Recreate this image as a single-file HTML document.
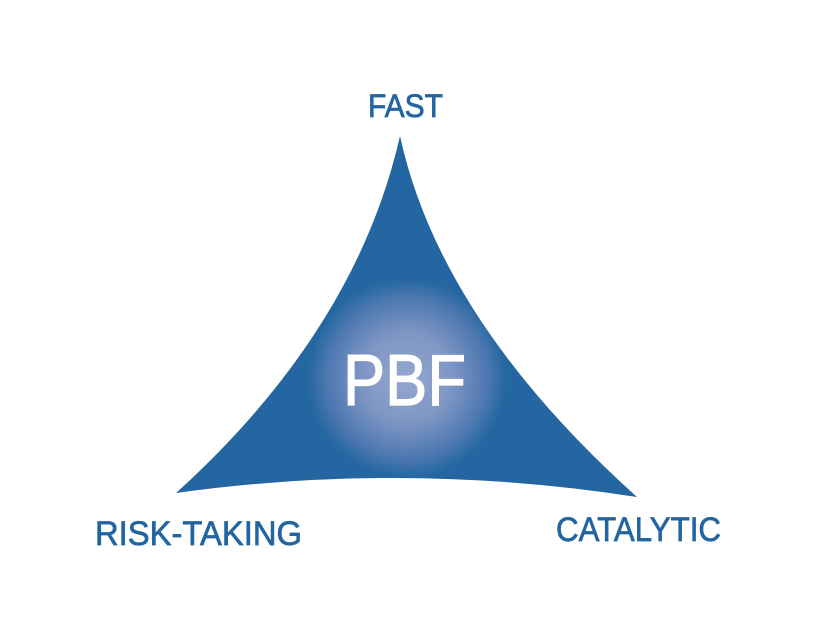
<!DOCTYPE html>
<html><head><meta charset="utf-8"><style>
html,body{margin:0;padding:0;background:#fff;width:826px;height:626px;overflow:hidden}
</style></head><body>
<svg width="826" height="626" viewBox="0 0 826 626" xmlns="http://www.w3.org/2000/svg">
<defs>
<radialGradient id="g" cx="407" cy="378" r="100" gradientUnits="userSpaceOnUse">
<stop offset="0" stop-color="#93a8d0"/>
<stop offset="0.45" stop-color="#7f96c4"/>
<stop offset="0.8" stop-color="#4d78b0"/>
<stop offset="1" stop-color="#2366a1"/>
</radialGradient>
</defs>
<path d="M400,136 Q356,330 176,493 Q406,461 637,497 Q440,320 400,136 Z" fill="url(#g)"/>
<g font-family="Liberation Sans, sans-serif" fill="#2265a0" stroke="#2265a0" stroke-width="0.7">
<text x="368" y="117" font-size="32" textLength="75" lengthAdjust="spacingAndGlyphs">FAST</text>
<text x="95" y="545" font-size="34" textLength="207" lengthAdjust="spacingAndGlyphs">RISK-TAKING</text>
<text x="556" y="541" font-size="34" textLength="165" lengthAdjust="spacingAndGlyphs">CATALYTIC</text>
</g>
<text x="343" y="405" font-family="Liberation Sans, sans-serif" font-size="72" fill="#fff" stroke="#fff" stroke-width="1.2" textLength="123" lengthAdjust="spacingAndGlyphs">PBF</text>
</svg>
</body></html>
